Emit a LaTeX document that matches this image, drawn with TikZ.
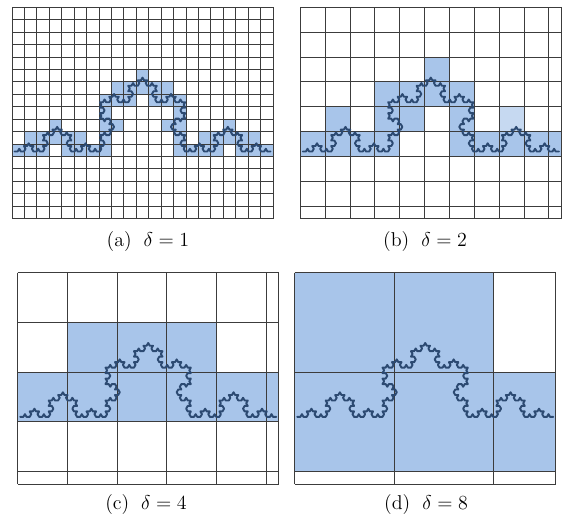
\documentclass[tikz,border=0pt]{standalone}
\usetikzlibrary{lindenmayersystems}
\definecolor{cellblue}{HTML}{A8C5EA}
\definecolor{celllight}{HTML}{C6D9F1}
\definecolor{gridc}{HTML}{3C3C3C}
\definecolor{kochc}{HTML}{2C4A72}
\tikzset{
  cell/.style={fill=cellblue},
  lightcell/.style={fill=celllight},
  gridline/.style={draw=gridc, line width=0.5pt},
  kochline/.style={draw=kochc, line width=1.15pt, line join=round, line cap=round,
    l-system={rule set={F -> F+F--F+F}, axiom=F, order=4, step=1.8967pt, angle=60}},
  caption/.style={font=\fontsize{12}{14}\selectfont, inner sep=0pt}
}
\begin{document}
\begin{tikzpicture}[x=0.6pt,y=-0.6pt]
\useasboundingbox[fill=white] (0,0) rectangle (564,520);
% ---------- panel (a): delta = 1
\begin{scope}[shift={(12,7.3)},x=7.458pt,y=-7.458pt]
  \foreach \c/\r in {10/5, 8/6,9/6,10/6,11/6,12/6, 7/7,8/7,9/7,11/7,12/7,13/7, 7/8,13/8,
     3/9,7/9,8/9,12/9,13/9,17/9,
     1/10,2/10,3/10,4/10,5/10,7/10,13/10,15/10,16/10,17/10,18/10,19/10,
     0/11,1/11,2/11,4/11,5/11,6/11,7/11,13/11,14/11,15/11,16/11,18/11,19/11,20/11}
    \fill[cell] (\c,\r) rectangle ++(1,1);
  \foreach \i in {0,...,21} \draw[gridline] (\i,0) -- (\i,17);
  \foreach \j in {0,...,17} \draw[gridline] (0,\j) -- (21,\j);
  \begin{scope}[shift={(0.2,11.6)}]
    \coordinate (ka) at (0,0);
    \draw[kochline] (ka) lindenmayer system;
  \end{scope}
\end{scope}
% ---------- panel (b): delta = 2
\begin{scope}[shift={(300.3,7.3)},x=7.458pt,y=-7.458pt]
  \begin{scope}
    \clip (0,0) rectangle (21,17);
    \foreach \c/\r in {5/2, 3/3,4/3,5/3,6/3, 1/4,3/4,4/4,6/4,
       0/5,1/5,2/5,3/5,6/5,7/5,8/5,9/5,10/5}
      \fill[cell] (2*\c,2*\r) rectangle ++(2,2);
    \fill[lightcell] (16,8) rectangle ++(2,2);
  \end{scope}
  \foreach \i in {0,2,...,20,21} \draw[gridline] (\i,0) -- (\i,17);
  \foreach \j in {0,2,...,16,17} \draw[gridline] (0,\j) -- (21,\j);
  \begin{scope}[shift={(0.2,11.6)}]
    \coordinate (kb) at (0,0);
    \draw[kochline] (kb) lindenmayer system;
  \end{scope}
\end{scope}
% ---------- panel (c): delta = 4
\begin{scope}[shift={(17.7,272.7)},x=7.458pt,y=-7.458pt]
  \begin{scope}
    \clip (0,0) rectangle (21,17);
    \foreach \c/\r in {1/1,2/1,3/1, 0/2,1/2,2/2,3/2,4/2,5/2}
      \fill[cell] (4*\c,4*\r) rectangle ++(4,4);
  \end{scope}
  \foreach \i in {0,4,...,20,21} \draw[gridline] (\i,0) -- (\i,17);
  \foreach \j in {0,4,...,16,17} \draw[gridline] (0,\j) -- (21,\j);
  \begin{scope}[shift={(0.2,11.6)}]
    \coordinate (kc) at (0,0);
    \draw[kochline] (kc) lindenmayer system;
  \end{scope}
\end{scope}
% ---------- panel (d): delta = 8
\begin{scope}[shift={(294.7,272.7)},x=7.458pt,y=-7.458pt]
  \begin{scope}
    \clip (0,0) rectangle (21,17);
    \foreach \c/\r in {0/0,1/0, 0/1,1/1,2/1}
      \fill[cell] (8*\c,8*\r) rectangle ++(8,8);
  \end{scope}
  \foreach \i in {0,8,16,21} \draw[gridline] (\i,0) -- (\i,17);
  \foreach \j in {0,8,16,17} \draw[gridline] (0,\j) -- (21,\j);
  \begin{scope}[shift={(0.2,11.6)}]
    \coordinate (kd) at (0,0);
    \draw[kochline] (kd) lindenmayer system;
  \end{scope}
\end{scope}
% ---------- captions
\node[caption] (capa) at (148,242) {(a)\hspace{0.6em}$\delta=1$};
\node[caption] (capb) at (425,242) {(b)\hspace{0.6em}$\delta=2$};
\node[caption] (capc) at (146,505) {(c)\hspace{0.6em}$\delta=4$};
\node[caption] (capd) at (426,505) {(d)\hspace{0.6em}$\delta=8$};
\end{tikzpicture}
\end{document}
